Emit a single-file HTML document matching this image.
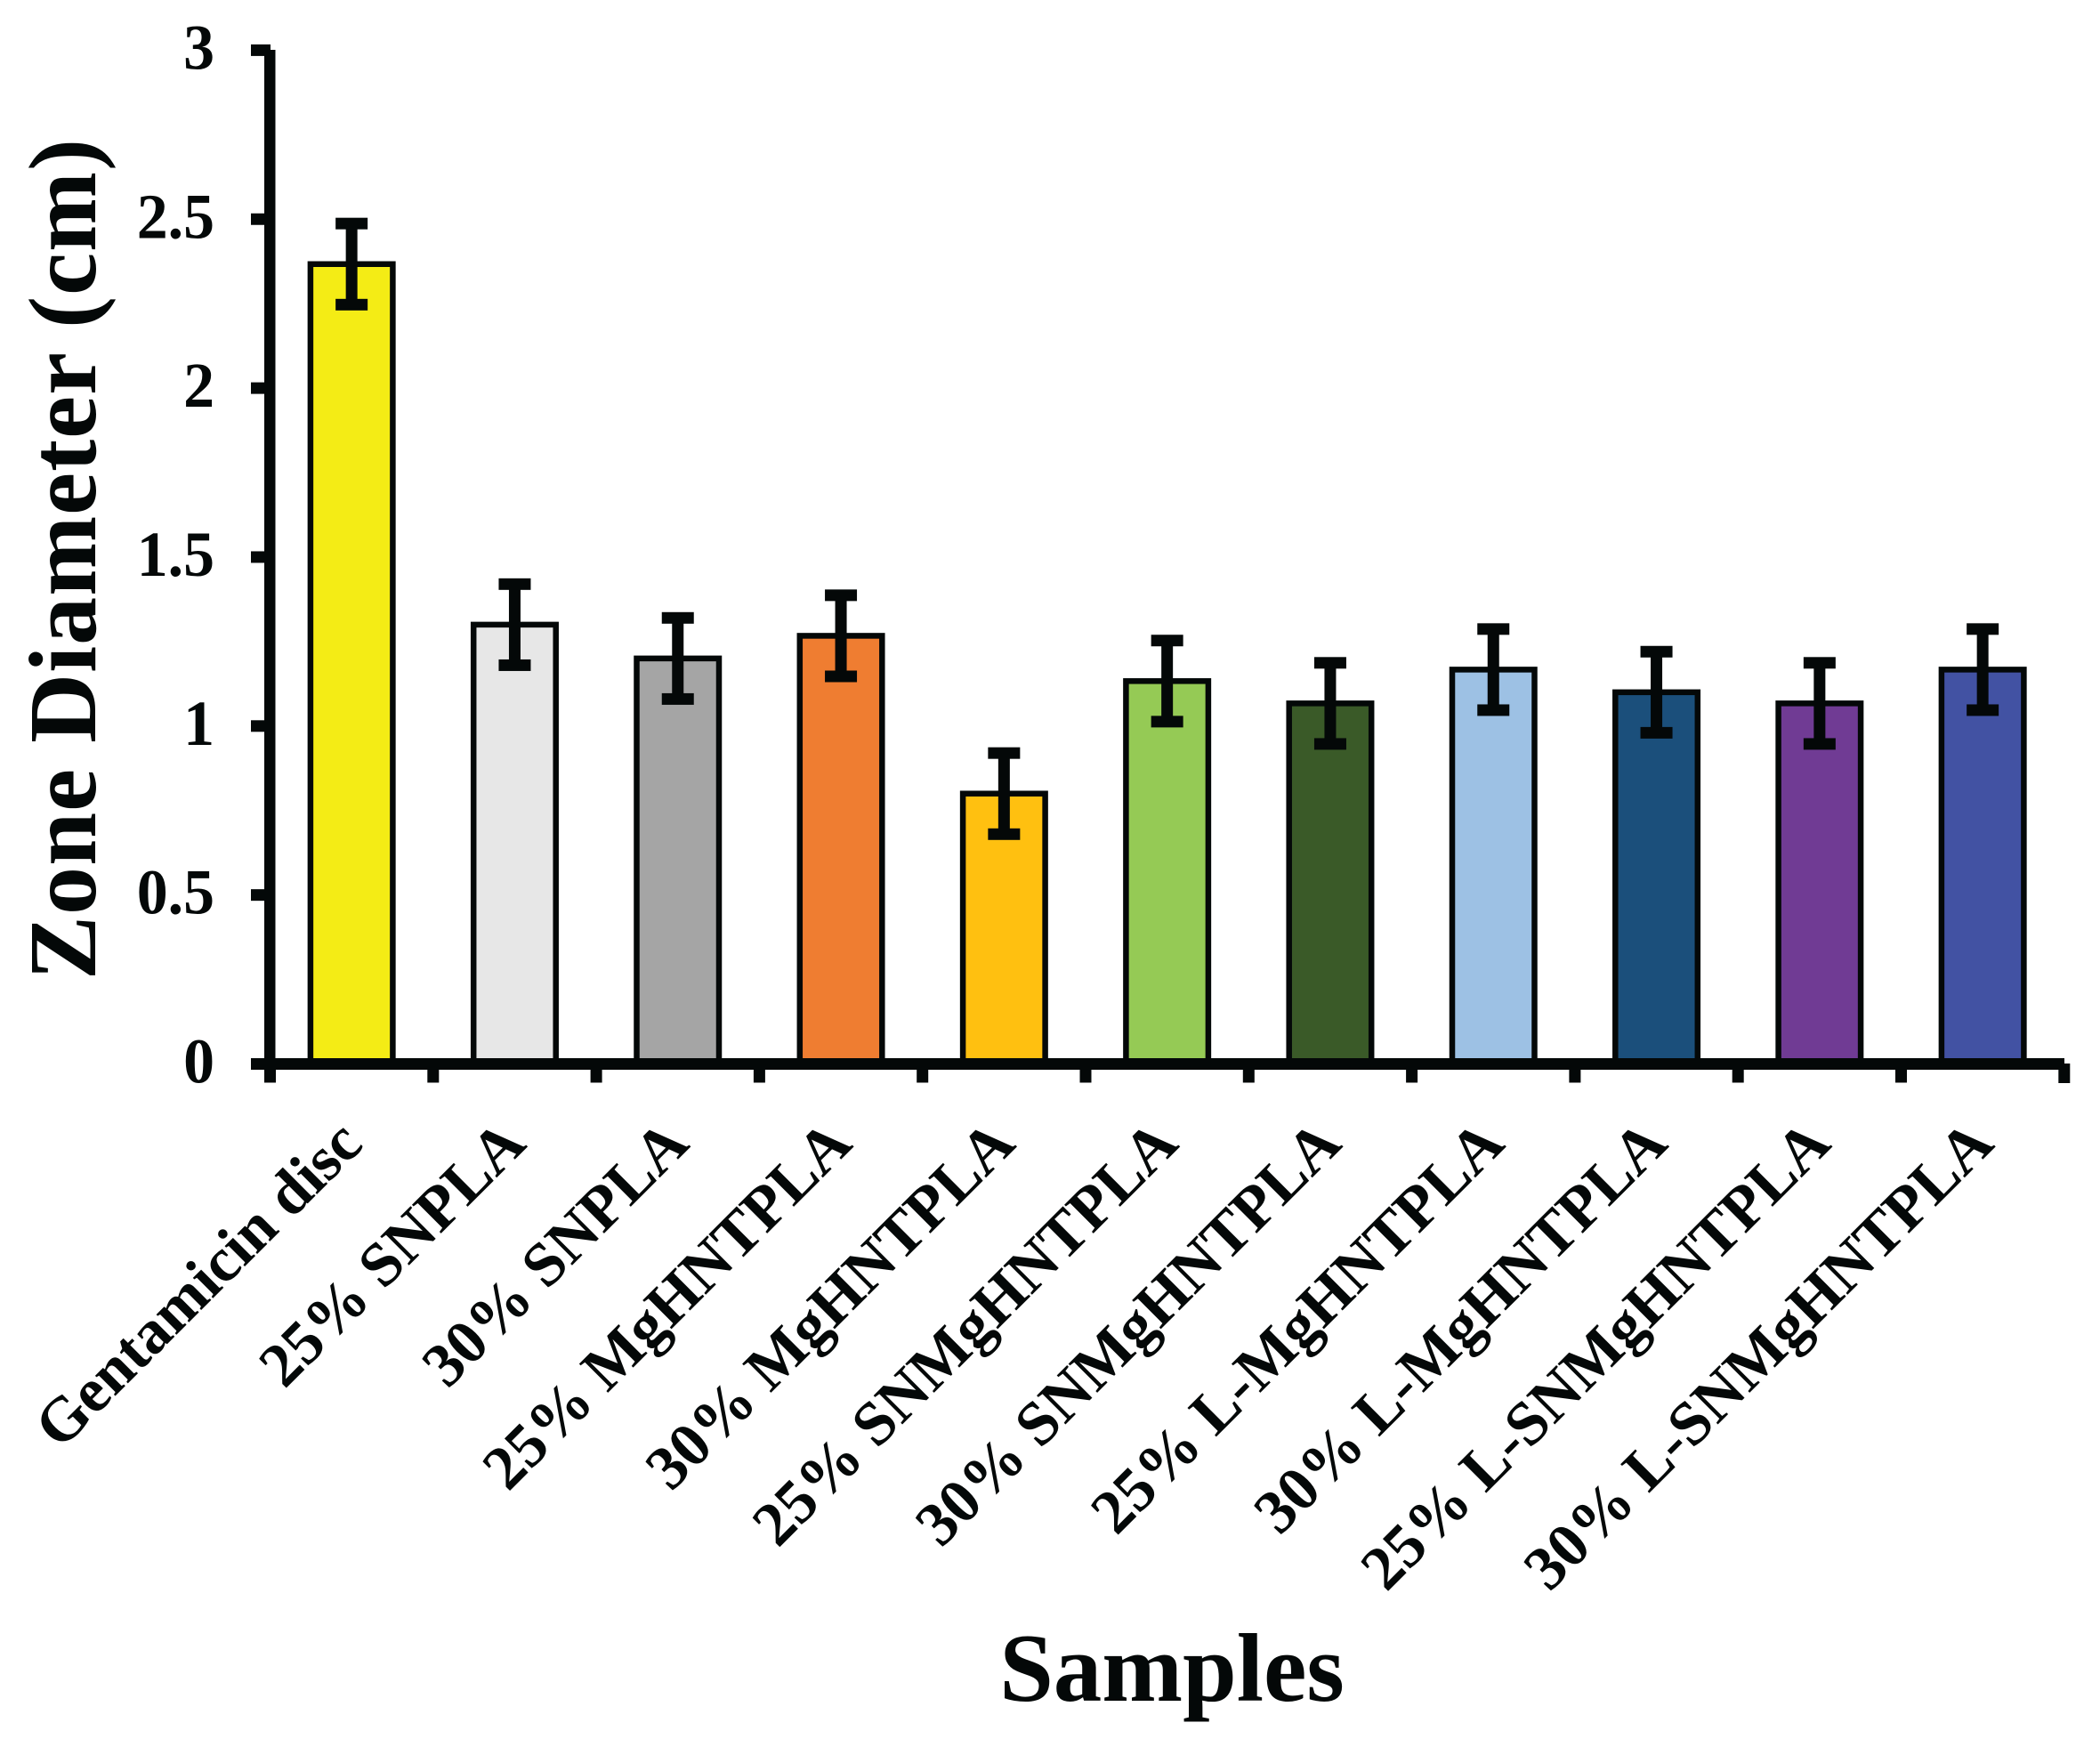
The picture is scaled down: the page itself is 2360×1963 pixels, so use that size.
<!DOCTYPE html>
<html lang="en">
<head>
<meta charset="utf-8">
<title>Zone Diameter by Sample</title>
<style>
html,body{margin:0;padding:0;background:#fff;}
svg{display:block;}
text{font-family:"Liberation Serif",serif;font-weight:bold;fill:#040808;}
</style>
</head>
<body>
<svg id="chart" xmlns="http://www.w3.org/2000/svg" width="2360" height="1963" viewBox="0 0 2360 1963">
<rect x="0" y="0" width="2360" height="1963" fill="#ffffff"/>
<g id="bars"></g>
<g id="axes"></g>
<text transform="translate(107,1101) rotate(-90)" font-size="108" textLength="945" lengthAdjust="spacing">Zone Diameter (cm)</text>
<text x="1317" y="1911" font-size="109" text-anchor="middle">Samples</text>
</svg>
<script>
const categories = ["Gentamicin disc","25% SNPLA","30% SNPLA","25% MgHNTPLA","30% MgHNTPLA","25% SNMgHNTPLA","30% SNMgHNTPLA","25% L-MgHNTPLA","30% L-MgHNTPLA","25% L-SNMgHNTPLA","30% L-SNMgHNTPLA"];
const zoneDiameter = [2.367,1.3,1.2,1.267,0.8,1.133,1.067,1.167,1.1,1.067,1.167];
const errorValues = [0.12,0.12,0.12,0.12,0.12,0.12,0.12,0.12,0.12,0.12,0.12];
const barColors = ["#f4ec15","#e7e7e7","#a5a5a5","#ef7d31","#ffc010","#95ca55","#3a5a28","#9dc1e4","#1b4f7b","#703b94","#4252a3"];
const yTicks = [0,0.5,1,1.5,2,2.5,3];
const yTickLabels = ["0","0.5","1","1.5","2","2.5","3"];

const NS = "http://www.w3.org/2000/svg";
const INK = "#040808";
const plotLeft = 303.5;
const step = 183.3;
const y0 = 1195.5;
const yUnit = 379.7;
const barWidth = 92.5;
function xBand(i){ return plotLeft + step * i; }
function xCenter(i){ return xBand(i + 0.5); }
function yScale(v){ return y0 - yUnit * v; }
function make(tag, parent, attrs){
  const el = document.createElementNS(NS, tag);
  Object.keys(attrs).forEach(function(k){ el.setAttribute(k, attrs[k]); });
  parent.appendChild(el);
  return el;
}
const barsG = document.getElementById("bars");
const axesG = document.getElementById("axes");

categories.forEach(function(cat, i){
  const v = zoneDiameter[i];
  const e = errorValues[i];
  const cx = xCenter(i);
  const bar = make("rect", barsG, {x: cx - barWidth/2, y: yScale(v), width: barWidth, height: y0 - yScale(v), fill: barColors[i], stroke: INK, "stroke-width": 6.5});
  
  
  const stem = make("rect", barsG, {x: cx - 6.5, y: yScale(v + e), width: 13, height: yScale(v - e) - yScale(v + e), fill: INK});
  
  
  const capTop = make("rect", barsG, {x: cx - 18, y: yScale(v + e) - 6.5, width: 36, height: 13, fill: INK});
  
  
  const capBottom = make("rect", barsG, {x: cx - 18, y: yScale(v - e) - 6.5, width: 36, height: 13, fill: INK});
  
  
  const label = make("text", axesG, {"font-size": 70, "text-anchor": "end", transform: "translate(" + (cx + 15) + ",1288) rotate(-45)"});
  label.textContent = cat;
  
  
});

const yAxis = make("rect", axesG, {x: 297, y: 56, width: 12.5, height: y0 - 50, fill: INK});


const xAxis = make("rect", axesG, {x: 282, y: y0 - 6.5, width: 2038, height: 13, fill: INK});



yTicks.forEach(function(t, i){
  const py = yScale(t);
  const tick = make("rect", axesG, {x: 282, y: py - 6.5, width: 22, height: 13, fill: INK});
  
  
  const lab = make("text", axesG, {"font-size": 72, "text-anchor": "end", transform: "translate(241," + (py + 21) + ") scale(0.97,1)"});
  lab.textContent = yTickLabels[i];
  
  
});

for (let i = 0; i <= categories.length; i++) {
  const tick = make("rect", axesG, {x: xBand(i) - 6.5, y: i === categories.length ? y0 - 0.5 : y0 + 6, width: 13, height: i === categories.length ? 22 : 15, fill: INK});
  
  
}
</script>
</body>
</html>
